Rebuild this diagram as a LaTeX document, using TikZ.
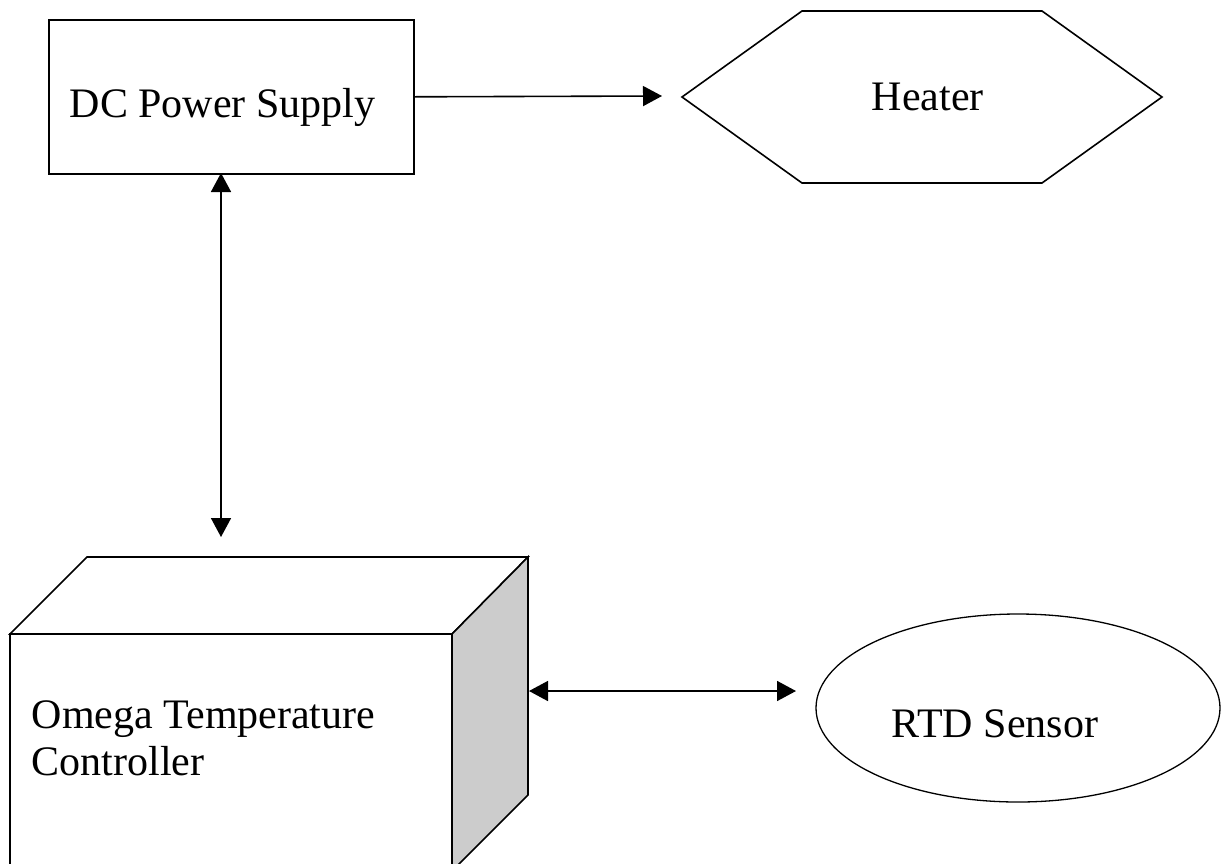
\documentclass[tikz,border=0pt]{standalone}
\usepackage{fontspec}
\setmainfont{Liberation Serif}
\usetikzlibrary{arrows.meta,shapes.geometric}
\definecolor{sidegray}{HTML}{CCCCCC}
\begin{document}
\begin{tikzpicture}[x=1pt,y=-1pt,line width=1.6pt,line join=miter,
  lbl/.style={font=\fontsize{42}{47}\selectfont,inner sep=0pt},
  tip/.tip={Triangle[length=19pt,width=20pt]},
  arr/.style={-tip},
  darr/.style={tip-tip}]
\useasboundingbox (0,0) rectangle (1223,863);
% DC power supply
\node[draw,minimum width=365pt,minimum height=154pt,anchor=north west,inner sep=0pt] (dc) at (48,19) {};
\node[lbl,anchor=base west] (dctext) at (69,117) {DC Power Supply};
% Heater
\draw (682,97) -- (802,11) -- (1042,11) -- (1162,97) -- (1042,183) -- (802,183) -- cycle;
\node[lbl,anchor=base west] (heater) at (871,110) {Heater};
\coordinate (hin) at (662,96);
% Controller box
\draw[fill=white] (10,634) rectangle (452,871);
\draw[fill=white] (10,634) -- (87,557) -- (528,557) -- (452,634) -- cycle;
\draw[fill=sidegray] (452,634) -- (528,557) -- (528,795) -- (452,871) -- cycle;
\node[lbl,anchor=base west] (ctl1) at (31,728) {Omega Temperature};
\node[lbl,anchor=base west] (ctl2) at (31,775) {Controller};
% RTD sensor
\node[draw,ellipse,minimum width=404pt,minimum height=188pt,line width=1.3pt,inner sep=0pt] (rtd) at (1018,708) {};
\node[lbl,anchor=base west] (rtdtext) at (891,737) {RTD Sensor};
% connector end points
\coordinate (dcbot) at (221,173);
\coordinate (ctltop) at (221,537);
\coordinate (ctlright) at (529,691);
\coordinate (rtdleft) at (796,691);
% connectors
\draw[arr] (dc.east) -- (hin);
\draw[darr] (dcbot) -- (ctltop);
\draw[darr] (ctlright) -- (rtdleft);
\end{tikzpicture}
\end{document}
